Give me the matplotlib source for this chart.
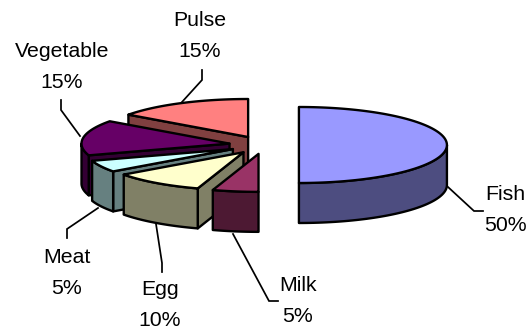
import numpy as np
import matplotlib
matplotlib.use("Agg")
import matplotlib.pyplot as plt
from matplotlib.patches import Polygon

# Shares listed clockwise from twelve o'clock
foods = ["Fish", "Milk", "Egg", "Meat", "Vegetable", "Pulse"]
shares = [50, 5, 10, 5, 15, 15]
top_colors = ["#9999FF", "#993366", "#FFFFCC", "#CCFFFF", "#660066", "#FF8080"]
side_colors = ["#4D4D80", "#4D1933", "#808066", "#668080", "#330033", "#804040"]

# Label centres and leader line vertices, in canvas pixels
label_centers = [(505, 210), (298, 301), (160, 305), (67, 273), (62, 67), (200, 36)]
leaders = [
    [(448, 187), (474, 211), (483, 211)],
    [(233, 234), (269, 301), (278, 301)],
    [(156, 224), (162, 263), (162, 272)],
    [(98, 208), (67, 229), (67, 238)],
    [(80, 136), (61, 110), (61, 100)],
    [(182, 102), (202, 80), (202, 70)],
]

# Projected pie geometry
CX, CY = 264, 145
RX, RY = 148, 38
EXPLODE = 0.236
DEPTH = 40
EDGE = 1.7

plt.rcParams["font.family"] = ["Liberation Sans", "DejaVu Sans"]
fig = plt.figure(figsize=(5.27, 3.30), dpi=100, facecolor="white")
ax = fig.add_axes([0, 0, 1, 1])
ax.set_xlim(0, 527)
ax.set_ylim(330, 0)
ax.axis("off")


def rim(apex, degrees):
    t = np.radians(degrees)
    return np.column_stack((apex[0] + RX * np.sin(t), apex[1] - RY * np.cos(t)))


def face(points, color, z):
    ax.add_patch(Polygon(points, closed=True, facecolor=color, edgecolor="black",
                         linewidth=EDGE, joinstyle="round", zorder=z))


edges = np.concatenate(([0], np.cumsum(shares))) * 3.6
down = np.array([0, DEPTH])

# Back slices first so the nearer ones overlap them
painting_order = [5, 4, 3, 2, 1, 0]
for z, i in enumerate(painting_order):
    start, end = edges[i], edges[i + 1]
    mid = np.radians((start + end) / 2)
    apex = np.array([CX + EXPLODE * RX * np.sin(mid), CY - EXPLODE * RY * np.cos(mid)])
    base = z * 3 + 1

    # Radial cut faces that turn towards the viewer
    for angle, visible in ((start, np.sin(np.radians(start)) < -1e-6),
                           (end, np.sin(np.radians(end)) > 1e-6)):
        if visible:
            corner = rim(apex, [angle])[0]
            face([apex, corner, corner + down, apex + down], side_colors[i], base)

    # Curved outer wall on the front half of the ellipse
    lo, hi = max(start, 90), min(end, 270)
    if hi > lo:
        arc = rim(apex, np.linspace(lo, hi, 60))
        face(np.vstack((arc, (arc + down)[::-1])), side_colors[i], base + 1)

    # Top surface
    arc = rim(apex, np.linspace(start, end, 120))
    face(np.vstack((apex, arc)), top_colors[i], base + 2)

for path in leaders:
    xs, ys = zip(*path)
    ax.plot(xs, ys, color="black", linewidth=1.25, solid_joinstyle="miter", zorder=40)

for name, share, (x, y) in zip(foods, shares, label_centers):
    ax.text(x, y, f"{name}\n{share}%", ha="center", va="center", multialignment="center",
            fontsize=15.3, linespacing=1.74, color="black", zorder=50)

fig.savefig("out.png", dpi=100, facecolor="white")
